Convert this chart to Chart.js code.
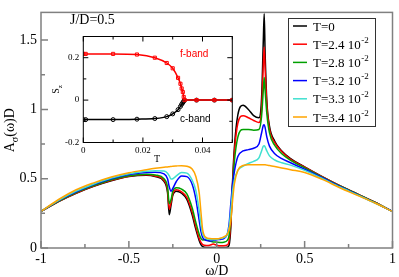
<!DOCTYPE html>
<html lang="en">
<head>
<meta charset="UTF-8">
<title>Spectral function</title>
<script src="https://cdn.jsdelivr.net/npm/chart.js"></script>
<style>
  body { margin: 0; background: #fff; }
  #wrap { position: relative; width: 399px; height: 277px; }
  #wrap canvas { position: absolute; left: 0; top: 0; }
</style>
</head>
<body>
<div id="wrap">
  <canvas id="mainChart" width="399" height="277"></canvas>
  <canvas id="insetChart" width="399" height="277"></canvas>
</div>
<script>
// --- main panel data: A(omega)D for each temperature ---
const omega = [-1, -0.9, -0.8, -0.7, -0.6, -0.5, -0.4, -0.35, -0.3, -0.28, -0.27, -0.26, -0.25, -0.23,
  -0.2, -0.17, -0.14, -0.12, -0.1, -0.09, -0.08, -0.06, -0.04, -0.02, 0, 0.02, 0.04, 0.06,
  0.07, 0.08, 0.09, 0.1, 0.12, 0.15, 0.18, 0.21, 0.24, 0.255, 0.265, 0.27, 0.275, 0.285,
  0.3, 0.33, 0.37, 0.42, 0.5, 0.6, 0.7, 0.8, 0.9, 1];

const aT0 = [.264, .335, .395, .445, .485, .515, .525, .515, .48, .40, .24, .31, .38, .41,
  .395, .35, .24, .14, .055, .025, .01, .004, .004, .004, .004, .004, .004, .006,
  .02, .15, .48, .72, .96, 1.03, 1.0, .955, .94, 1.08, 1.5, 1.69, 1.42, 1.06,
  .88, .77, .70, .645, .585, .515, .45, .39, .33, .264];
const aT24 = [.264, .336, .397, .447, .488, .518, .528, .52, .488, .42, .28, .33, .39, .42,
  .405, .365, .26, .16, .07, .04, .025, .018, .02, .028, .02, .016, .016, .022,
  .05, .18, .46, .68, .90, .955, .94, .92, .905, 1.0, 1.32, 1.45, 1.3, 1.03,
  .86, .76, .695, .64, .583, .514, .449, .39, .33, .264];
const aT28 = [.264, .338, .40, .45, .492, .522, .533, .527, .50, .44, .32, .35, .41, .435,
  .425, .39, .29, .19, .10, .07, .058, .06, .05, .044, .042, .04, .042, .055,
  .09, .22, .44, .62, .80, .855, .855, .85, .855, .95, 1.14, 1.23, 1.14, .97,
  .83, .74, .68, .632, .578, .512, .448, .388, .328, .264];
const aT32 = [.264, .342, .405, .458, .50, .53, .545, .546, .535, .50, .44, .41, .43, .48,
  .52, .515, .46, .36, .20, .12, .075, .055, .05, .055, .06, .062, .068, .10,
  .17, .32, .46, .55, .66, .70, .71, .72, .75, .83, .885, .89, .87, .80,
  .735, .68, .645, .615, .568, .507, .444, .385, .326, .264];
const aT33 = [.264, .344, .41, .462, .505, .535, .553, .558, .555, .54, .52, .498, .50, .52,
  .545, .54, .49, .42, .27, .17, .10, .068, .062, .06, .063, .068, .075, .10,
  .15, .27, .41, .49, .56, .59, .61, .625, .65, .70, .735, .738, .73, .70,
  .665, .635, .615, .598, .56, .502, .44, .383, .325, .264];
const aT34 = [.264, .35, .42, .47, .512, .543, .565, .575, .583, .585, .587, .588, .59, .592,
  .594, .59, .57, .52, .40, .26, .13, .075, .068, .066, .066, .07, .08, .10,
  .13, .20, .34, .46, .56, .595, .60, .60, .60, .60, .60, .60, .60, .598,
  .595, .588, .578, .565, .545, .495, .435, .38, .325, .264];

const seriesNames = ['T=0', 'T=2.4 10', 'T=2.8 10', 'T=3.2 10', 'T=3.3 10', 'T=3.4 10'];
const seriesExp = ['', '-2', '-2', '-2', '-2', '-2'];
const seriesColors = ['#000000', '#ff0000', '#00a000', '#0000ff', '#40e0d0', '#ffa500'];
const seriesValues = [aT0, aT24, aT28, aT32, aT33, aT34];

const xTicks = [-1, -0.5, 0, 0.5, 1];
const yTicks = [0, 0.5, 1, 1.5];

// --- inset data: S_z vs T ---
const tempT = [0, 0.0008, 0.01, 0.018, 0.024, 0.028, 0.030, 0.0318, 0.0326, 0.033, 0.0334, 0.0337, 0.034, 0.038, 0.044, 0.05];
const fBand = [0.218, 0.218, 0.218, 0.215, 0.20, 0.175, 0.15, 0.105, 0.077, 0.055, 0.038, 0.015, 0, 0, 0, 0];
const cBand = [-0.092, -0.092, -0.092, -0.09, -0.087, -0.078, -0.065, -0.045, -0.03, -0.02, -0.012, -0.005, 0, 0, 0, 0];
const insetXTicks = [0, 0.02, 0.04];
const insetYTicks = [-0.2, 0, 0.2];

const SERIF = '"Liberation Serif", "Times New Roman", serif';
const SANS = '"Liberation Sans", Arial, sans-serif';

// draws text pieces (normal / sub / sup) centred on x,y
function richText(ctx, parts, x, y) {
  let total = 0;
  parts.forEach(p => { ctx.font = p.size + 'px ' + SERIF; p.w = ctx.measureText(p.t).width; total += p.w; });
  let cx = x - total / 2;
  ctx.textAlign = 'left';
  ctx.textBaseline = 'alphabetic';
  parts.forEach(p => {
    ctx.font = p.size + 'px ' + SERIF;
    ctx.fillText(p.t, cx, y + (p.dy || 0));
    cx += p.w;
  });
}

const mainDecor = {
  id: 'mainDecor',
  afterDraw(chart) {
    const ctx = chart.ctx, a = chart.chartArea;
    const xs = chart.scales.x, ys = chart.scales.y;
    ctx.save();
    // frame
    ctx.strokeStyle = '#808080';
    ctx.lineWidth = 1.5;
    ctx.strokeRect(a.left, a.top, a.right - a.left, a.bottom - a.top);
    // ticks, pointing inward
    ctx.beginPath();
    for (let v = -1; v <= 1.001; v += 0.25) {
      const px = xs.getPixelForValue(v);
      const len = Math.abs(v * 2 - Math.round(v * 2)) < 1e-6 ? 7 : 4;
      ctx.moveTo(px, a.bottom); ctx.lineTo(px, a.bottom - len);
    }
    for (let v = 0; v <= 1.7; v += 0.25) {
      const py = ys.getPixelForValue(v);
      const len = Math.abs(v * 2 - Math.round(v * 2)) < 1e-6 ? 7 : 4;
      ctx.moveTo(a.left, py); ctx.lineTo(a.left + len, py);
    }
    ctx.stroke();

    ctx.fillStyle = '#000';
    // axis titles
    richText(ctx, [{t: '\u03c9/D', size: 14}], (a.left + a.right) / 2, 275);
    ctx.save();
    ctx.translate(14, (a.top + a.bottom) / 2);
    ctx.rotate(-Math.PI / 2);
    richText(ctx, [{t: 'A', size: 14}, {t: '\u03c3', size: 10, dy: 4}, {t: '(\u03c9)D', size: 14}], 0, 0);
    ctx.restore();
    // parameter label
    ctx.font = '14px ' + SERIF;
    ctx.textAlign = 'left';
    ctx.textBaseline = 'middle';
    ctx.fillText('J/D=0.5', 70, 20);

    // legend box
    const bx = 288, by = 18, bw = 87, bh = 108;
    ctx.fillStyle = '#fff';
    ctx.fillRect(bx, by, bw, bh);
    ctx.strokeStyle = '#333';
    ctx.lineWidth = 1;
    ctx.strokeRect(bx + 0.5, by + 0.5, bw, bh);
    chart.data.datasets.forEach((ds, i) => {
      const yy = 26 + i * 18.2;
      ctx.strokeStyle = ds.borderColor;
      ctx.lineWidth = 1.5;
      ctx.beginPath(); ctx.moveTo(293, yy); ctx.lineTo(307, yy); ctx.stroke();
      ctx.fillStyle = '#000';
      ctx.font = '13px ' + SERIF;
      ctx.textBaseline = 'alphabetic';
      ctx.textAlign = 'left';
      ctx.fillText(seriesNames[i], 313, yy + 4.5);
      if (seriesExp[i]) {
        const w = ctx.measureText(seriesNames[i]).width;
        ctx.font = '9px ' + SERIF;
        ctx.fillText(seriesExp[i], 313 + w + 0.5, yy - 1.5);
      }
    });
    ctx.restore();
  }
};

new Chart(document.getElementById('mainChart'), {
  type: 'line',
  data: {
    datasets: seriesValues.map((vals, i) => ({
      label: seriesNames[i] + seriesExp[i],
      data: omega.map((w, k) => ({x: w, y: vals[k]})),
      borderColor: seriesColors[i],
      borderWidth: 1.5,
      pointRadius: 0,
      fill: false,
      cubicInterpolationMode: 'monotone',
      order: seriesValues.length - i
    }))
  },
  options: {
    responsive: false,
    animation: false,
    devicePixelRatio: 1,
    layout: { padding: { top: 3, right: 4, left: 0, bottom: 0 } },
    plugins: { legend: { display: false }, tooltip: { enabled: false } },
    scales: {
      x: {
        type: 'linear', min: -1, max: 1,
        grid: { display: false, drawTicks: false }, border: { display: false },
        afterBuildTicks: s => { s.ticks = xTicks.map(v => ({ value: v })); },
        ticks: { padding: 3, color: '#000', maxRotation: 0, font: { family: SERIF, size: 14 },
                 callback: v => String(v) },
        afterFit: s => { s.height = 29; }
      },
      y: {
        min: 0, max: 1.7,
        grid: { display: false, drawTicks: false }, border: { display: false },
        afterBuildTicks: s => { s.ticks = yTicks.map(v => ({ value: v })); },
        ticks: { padding: 4, color: '#000', font: { family: SERIF, size: 14 },
                 callback: v => String(v) },
        afterFit: s => { s.width = 41; }
      }
    }
  },
  plugins: [mainDecor]
});

// --- inset ---
const insetDecor = {
  id: 'insetDecor',
  beforeDatasetsDraw(chart) {
    const ctx = chart.ctx, a = chart.chartArea;
    ctx.save();
    ctx.fillStyle = '#fff';
    ctx.fillRect(a.left, a.top, a.right - a.left, a.bottom - a.top);
    ctx.restore();
  },
  afterDraw(chart) {
    const ctx = chart.ctx, a = chart.chartArea;
    const xs = chart.scales.x, ys = chart.scales.y;
    ctx.save();
    ctx.strokeStyle = '#000';
    ctx.lineWidth = 1;
    ctx.strokeRect(a.left, a.top, a.right - a.left, a.bottom - a.top);
    ctx.beginPath();
    for (let k = 0; k <= 5; k++) {
      const px = xs.getPixelForValue(k * 0.01);
      const len = k % 2 === 0 ? 5 : 3;
      ctx.moveTo(px, a.bottom); ctx.lineTo(px, a.bottom - len);
      ctx.moveTo(px, a.top); ctx.lineTo(px, a.top + len);
    }
    for (let k = -2; k <= 3; k++) {
      const py = ys.getPixelForValue(k * 0.1);
      const len = k % 2 === 0 ? 5 : 3;
      ctx.moveTo(a.left, py); ctx.lineTo(a.left + len, py);
      ctx.moveTo(a.right, py); ctx.lineTo(a.right - len, py);
    }
    ctx.stroke();

    ctx.fillStyle = '#000';
    richText(ctx, [{t: 'T', size: 10}], 157, 162);
    ctx.save();
    ctx.translate(59, (a.top + a.bottom) / 2);
    ctx.rotate(-Math.PI / 2);
    richText(ctx, [{t: 'S', size: 10}, {t: 'z', size: 7, dy: 3}], 0, 0);
    ctx.restore();

    ctx.font = '10px ' + SANS;
    ctx.textAlign = 'left';
    ctx.textBaseline = 'middle';
    ctx.fillStyle = '#ff0000';
    ctx.fillText('f-band', 180, 54);
    ctx.fillStyle = '#000';
    ctx.fillText('c-band', 180, 119);
    ctx.restore();
  }
};

new Chart(document.getElementById('insetChart'), {
  type: 'line',
  data: {
    datasets: [
      {
        label: 'f-band',
        data: tempT.map((t, k) => ({x: t, y: fBand[k]})),
        borderColor: '#ff0000', borderWidth: 1.5,
        pointStyle: 'rect', pointRadius: 2.2, pointBorderWidth: 1,
        pointBorderColor: '#ff0000', pointBackgroundColor: 'rgba(255,255,255,0)',
        cubicInterpolationMode: 'monotone'
      },
      {
        label: 'c-band',
        data: tempT.map((t, k) => ({x: t, y: cBand[k]})),
        borderColor: '#000', borderWidth: 1.5,
        pointStyle: 'circle', pointRadius: 2, pointBorderWidth: 1,
        pointBorderColor: '#000', pointBackgroundColor: 'rgba(255,255,255,0)',
        cubicInterpolationMode: 'monotone'
      }
    ]
  },
  options: {
    responsive: false,
    animation: false,
    devicePixelRatio: 1,
    layout: { padding: { top: 36.5, right: 166.7, left: 0, bottom: 122.5 } },
    plugins: { legend: { display: false }, tooltip: { enabled: false } },
    scales: {
      x: {
        type: 'linear', min: 0, max: 0.05,
        grid: { display: false, drawTicks: false }, border: { display: false },
        afterBuildTicks: s => { s.ticks = insetXTicks.map(v => ({ value: v })); },
        ticks: { padding: 3, color: '#000', maxRotation: 0, autoSkip: false,
                 font: { family: SERIF, size: 9 }, callback: v => String(v) },
        afterFit: s => { s.height = 12; }
      },
      y: {
        min: -0.2, max: 0.3,
        grid: { display: false, drawTicks: false }, border: { display: false },
        afterBuildTicks: s => { s.ticks = insetYTicks.map(v => ({ value: v })); },
        ticks: { padding: 4, color: '#000', font: { family: SERIF, size: 9 }, callback: v => String(v) },
        afterFit: s => { s.width = 83.3; }
      }
    }
  },
  plugins: [insetDecor]
});
</script>
</body>
</html>
